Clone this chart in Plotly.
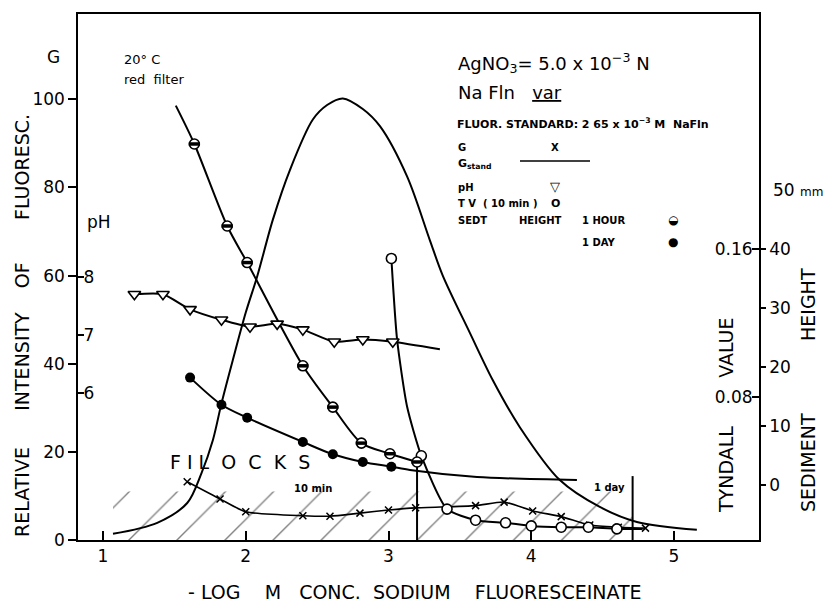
import plotly.graph_objects as go

F = "DejaVu Sans"
NB = "\u00a0"

# ---------------- data (x = -log M conc. sodium fluoresceinate) ----------------
x_ticks = [1, 2, 3, 4, 5]
g_ticks = [0, 20, 40, 60, 80, 100]
ph_ticks = [6, 7, 8]
tyndall_ticks = [0.08, 0.16]
tyndall_labels = ["0.08", "0.16"]
sed_ticks = [0, 10, 20, 30, 40]

# G (relative intensity of fluorescence), smooth curve without markers
g_x = [1.07, 1.38, 1.59, 1.69, 1.77, 1.83, 1.91, 2.0, 2.08, 2.19, 2.31, 2.47, 2.57,
       2.68, 2.82, 2.94, 3.13, 3.29, 3.38, 3.57, 3.73, 3.92, 4.2, 4.48, 4.74, 5.16]
g_val = [1.4, 3.9, 8.4, 15.2, 22.7, 31, 40.9, 51.6, 59.8, 72.7, 84, 95.4, 98.7,
         100.2, 97.8, 93.9, 82.5, 68.0, 60.0, 47.0, 36.3, 25.6, 13.6, 7.5, 4.1, 2.3]

# G / G_stand  (x markers)
ratio_x = [1.59, 1.82, 2.0, 2.4, 2.59, 2.8, 3.0, 3.19, 3.61, 3.81, 4.01, 4.21, 4.41, 4.61, 4.8]
ratio_val = [13.2, 9.3, 6.4, 5.5, 5.4, 6.1, 6.8, 7.3, 7.8, 8.6, 6.6, 5.3, 3.4, 2.9, 2.7]

# pH (open triangles)
ph_x = [1.22, 1.42, 1.61, 1.83, 2.03, 2.22, 2.40, 2.62, 2.82, 3.03]
ph_val = [7.70, 7.70, 7.44, 7.26, 7.14, 7.19, 7.09, 6.88, 6.92, 6.88]
ph_line_end_x = [3.36]
ph_line_end_val = [6.75]

# Tyndall value (10 min), open circles
tv_x = [3.02, 3.23, 3.41, 3.61, 3.82, 4.0, 4.21, 4.4, 4.6]
tv_val = [0.1549, 0.0482, 0.0194, 0.0134, 0.0120, 0.0103, 0.0096, 0.0096, 0.0087]
tv_curve_x = [3.02, 3.06, 3.13, 3.23, 3.41, 3.61, 3.82, 4.0, 4.21, 4.4, 4.6, 4.78]
tv_curve_val = [0.1549, 0.1111, 0.0749, 0.0482, 0.0194, 0.0134, 0.0120, 0.0103,
                0.0096, 0.0096, 0.0087, 0.0087]

# Sediment height (mm) after 1 hour (half-filled circles)
sed1h_x = [1.64, 1.87, 2.01, 2.40, 2.61, 2.81, 3.01, 3.2]
sed1h_val = [57.8, 43.9, 37.7, 20.2, 13.2, 7.1, 5.3, 3.9]
sed1h_start_x = [1.51]
sed1h_start_val = [64.3]

# Sediment height (mm) after 1 day (filled circles)
sed1d_x = [1.61, 1.83, 2.01, 2.40, 2.61, 2.82, 3.02]
sed1d_val = [18.2, 13.6, 11.4, 7.3, 5.2, 3.9, 3.1]
sed1d_tail_x = [3.15, 3.62, 4.32]
sed1d_tail_val = [2.55, 1.36, 0.84]

# flocculation limits (10 min, 1 day) and hatched flock region
flock_x = [3.2, 4.71]
flock_top = [18, 14.5]
hatch_x = [1.07, 4.71]
hatch_top = [11, 11]

# ---------------- geometry helpers (pixel -> paper) ----------------
L, R, T, B = 78, 759, 14, 540
def px(x):
    return (x - L) / (R - L)
def py(y):
    return (B - y) / (B - T)

BLK = "black"
fig = go.Figure()

# hatched flock area
fig.add_trace(go.Scatter(
    x=hatch_x, y=hatch_top, mode="lines", line=dict(width=0, color="rgba(0,0,0,0)"),
    fill="tozeroy", fillcolor="rgba(0,0,0,0)",
    fillpattern=dict(shape="/", size=34, solidity=0.04, fgcolor="black",
                     bgcolor="rgba(255,255,255,0)", fillmode="overlay"),
    hoverinfo="skip", showlegend=False))

# flock boundary verticals
for fx, ft in zip(flock_x, flock_top):
    fig.add_trace(go.Scatter(x=[fx, fx], y=[0, ft], mode="lines",
                             line=dict(color=BLK, width=2), showlegend=False, hoverinfo="skip"))

# G bell curve
fig.add_trace(go.Scatter(x=g_x, y=g_val, mode="lines", line=dict(color=BLK, width=2, shape="spline", smoothing=0.9),
                         showlegend=False))

# G/Gstand
fig.add_trace(go.Scatter(x=ratio_x, y=ratio_val, mode="lines+markers",
                         line=dict(color=BLK, width=1.6, shape="spline", smoothing=0.6),
                         marker=dict(symbol="x-thin-open", size=7, line=dict(width=1.5, color=BLK)),
                         showlegend=False))

# pH on y4
fig.add_trace(go.Scatter(x=ph_x + ph_line_end_x, y=ph_val + ph_line_end_val, mode="lines", yaxis="y4",
                         line=dict(color=BLK, width=2, shape="spline", smoothing=0.6), showlegend=False))
fig.add_trace(go.Scatter(x=ph_x, y=ph_val, mode="markers", yaxis="y4",
                         marker=dict(symbol="triangle-down", size=11, color="white", line=dict(width=1.6, color=BLK)),
                         showlegend=False))

# Sediment 1 hour on y3
fig.add_trace(go.Scatter(x=sed1h_start_x + sed1h_x, y=sed1h_start_val + sed1h_val, mode="lines", yaxis="y3",
                         line=dict(color=BLK, width=2, shape="spline", smoothing=0.8), showlegend=False))
fig.add_trace(go.Scatter(x=sed1h_x, y=sed1h_val, mode="markers", yaxis="y3",
                         marker=dict(symbol="circle", size=10, color="white", line=dict(width=1.6, color=BLK)),
                         showlegend=False))
fig.add_trace(go.Scatter(x=sed1h_x, y=sed1h_val, mode="markers", yaxis="y3",
                         marker=dict(symbol="line-ew", size=8, line=dict(width=3.5, color=BLK)),
                         showlegend=False))

# Sediment 1 day on y3
fig.add_trace(go.Scatter(x=sed1d_x + sed1d_tail_x, y=sed1d_val + sed1d_tail_val, mode="lines", yaxis="y3",
                         line=dict(color=BLK, width=2, shape="spline", smoothing=0.8), showlegend=False))
fig.add_trace(go.Scatter(x=sed1d_x, y=sed1d_val, mode="markers", yaxis="y3",
                         marker=dict(symbol="circle", size=10, color=BLK), showlegend=False))

# Tyndall value on y2
fig.add_trace(go.Scatter(x=tv_curve_x, y=tv_curve_val, mode="lines", yaxis="y2",
                         line=dict(color=BLK, width=2, shape="spline", smoothing=0.6), showlegend=False))
fig.add_trace(go.Scatter(x=tv_x, y=tv_val, mode="markers", yaxis="y2",
                         marker=dict(symbol="circle", size=10, color="white", line=dict(width=1.6, color=BLK)),
                         showlegend=False))

tickfont = dict(family=F, size=17, color=BLK)
common = dict(showgrid=False, zeroline=False, tickcolor=BLK, tickwidth=1.5, linecolor=BLK, linewidth=1.5,
              tickfont=tickfont)

fig.update_layout(
    width=826, height=602,
    margin=dict(l=L, r=826 - R, t=T, b=602 - B, pad=0),
    paper_bgcolor="white", plot_bgcolor="white",
    font=dict(family=F, color=BLK),
    showlegend=False,
    xaxis=dict(range=[0.8249, 5.5954], tickvals=x_ticks, ticks="inside", ticklen=9, showline=True, mirror=True,
               **common),
    yaxis=dict(range=[0, 119.35], tickvals=g_ticks, ticks="outside", ticklen=8, showline=True, **common),
    yaxis2=dict(overlaying="y", side="right", anchor="x", range=[0.00269, 0.28703],
                tickvals=tyndall_ticks, ticktext=tyndall_labels, ticks="inside", ticklen=7,
                ticklabelposition="inside", showline=True, **common),
    yaxis3=dict(overlaying="y", side="right", anchor="x", range=[-9.322, 79.83],
                tickvals=sed_ticks, ticks="outside", ticklen=5, showline=True, **common),
    yaxis4=dict(overlaying="y", side="left", anchor="x", range=[3.46, 12.536],
                tickvals=ph_ticks, ticks="inside", ticklen=6, ticklabelposition="inside", showline=False,
                **common),
)

ann = []
def A(text, x, y, size=17, xanchor="left", yanchor="middle", angle=0, xref="paper", yref="paper", **kw):
    ann.append(dict(text=text, x=x, y=y, xref=xref, yref=yref, showarrow=False, xanchor=xanchor,
                    yanchor=yanchor, textangle=angle, font=dict(family=F, size=size, color=BLK), **kw))

def sp(n):
    return NB * n

# axis titles
A("RELATIVE" + sp(6) + "INTENSITY" + sp(4) + "OF" + sp(7) + "FLUORESC.", px(22), py(326), size=19,
  xanchor="center", angle=-90)
A("-" + sp(1) + "LOG" + sp(4) + "M" + sp(3) + "CONC." + sp(2) + "SODIUM" + sp(4) + "FLUORESCEINATE",
  px(415), py(592), size=19, xanchor="center")
A("TYNDALL" + sp(8) + "VALUE", px(726), py(415), size=19, xanchor="center", angle=-90)
A("SEDIMENT" + sp(12) + "HEIGHT", px(808), py(390), size=19, xanchor="center", angle=-90)
A("50 <span style='font-size:12px'>mm</span>", px(771), 50, yref="y3", size=17)

A("G", px(53), py(57), size=17, xanchor="center")
A("pH", px(85), py(222), size=17)
A("20° C", px(122), py(60), size=13)
A("red" + sp(2) + "filter", px(122), py(80), size=13)

# top-right key
A("AgNO<sub>3</sub>= 5.0 x 10<sup>−3</sup> N", px(456), py(63), size=18)
A("Na Fln" + sp(3) + "<u>var</u>", px(456), py(92), size=18)
A("<b>FLUOR. STANDARD:" + sp(1) + "2 65 x 10<sup>−3</sup> M" + sp(2) + "NaFln</b>", px(455), py(123), size=11)
A("<b>G</b>", px(456), py(147), size=10)
A("<b>X</b>", px(555), py(147), size=10, xanchor="center")
A("<b>G<sub>stand</sub></b>", px(456), py(164), size=11)
A("<b>pH</b>", px(456), py(187), size=10)
A("▽", px(555), py(186), size=13, xanchor="center")
A("<b>T V  ( 10 min )</b>", px(456), py(203), size=10)
A("<b>O</b>", px(555), py(203), size=11, xanchor="center")
A("<b>SEDT</b>", px(456), py(220), size=10)
A("<b>HEIGHT</b>", px(517), py(220), size=10)
A("<b>1 HOUR</b>", px(580), py(220), size=10)
A("◒", px(673), py(220), size=12, xanchor="center")
A("<b>1 DAY</b>", px(580), py(242), size=10)
A("●", px(673), py(242), size=12, xanchor="center")

# flock labels
A("F I L" + sp(2) + "O" + sp(2) + "C" + sp(2) + "K" + sp(2) + "S", px(168), py(462), size=19)
A("<b>10 min</b>", px(292), py(488), size=10)
A("<b>1 day</b>", px(592), py(487), size=10)

fig.update_layout(annotations=ann,
                  shapes=[dict(type="line", xref="paper", yref="paper", x0=px(520), x1=px(590),
                               y0=py(161), y1=py(161), line=dict(color=BLK, width=1.5))])

fig.write_html("out.html", config={"displayModeBar": False},
               post_script="document.body.style.margin='0px';")
